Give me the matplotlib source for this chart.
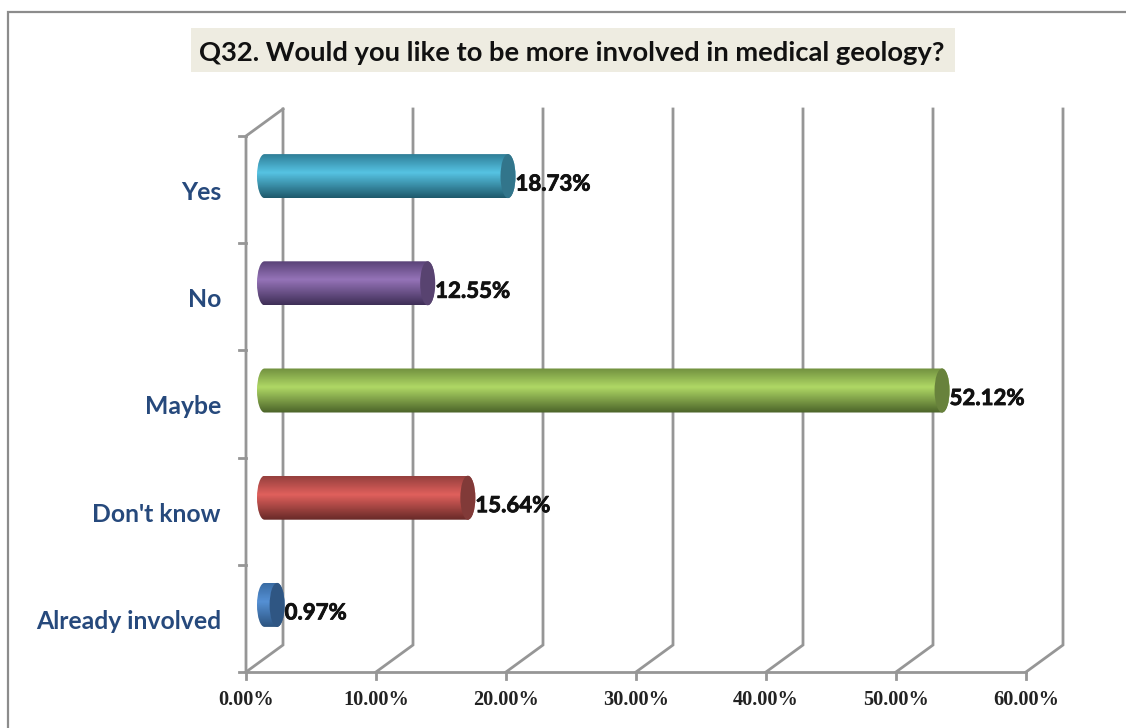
import numpy as np
import matplotlib
matplotlib.use('Agg')
import matplotlib.pyplot as plt
import matplotlib.patheffects as pe
from matplotlib.colors import LinearSegmentedColormap
from matplotlib.lines import Line2D
from matplotlib.patches import Ellipse, PathPatch, Rectangle
from matplotlib.path import Path

# data, top to bottom
categories = ['Yes', 'No', 'Maybe', "Don't know", 'Already involved']
values = [18.73, 12.55, 52.12, 15.64, 0.97]
value_labels = ['18.73%', '12.55%', '52.12%', '15.64%', '0.97%']
xticks = [0, 10, 20, 30, 40, 50, 60]
xtick_labels = ['0.00%', '10.00%', '20.00%', '30.00%', '40.00%', '50.00%', '60.00%']

# top, middle, bottom of the tube and the end cap
bar_colors = [
    ('#2f7f98', '#56c3e3', '#1f5a6c', '#32758b'),
    ('#5a4378', '#9573b8', '#3f2f57', '#584370'),
    ('#71903f', '#afd865', '#4b6329', '#68823c'),
    ('#96403e', '#e0605c', '#682a28', '#813a38'),
    ('#3a6ca4', '#5590d4', '#2c5480', '#2f5683'),
]
grid_col = '#969696'

W, H = 1126, 728
fig = plt.figure(figsize=(W / 100, H / 100), dpi=100)

# axes box is the front plane of the 3d chart, in pixels
left, right, top, bottom = 246, 1026, 136, 672
ax = fig.add_axes([left / W, 1 - bottom / H, (right - left) / W, (bottom - top) / H])
ax.set_xlim(0, 60)
ax.set_ylim(5, 0)
ax.axis('off')

px_x = 60 / (right - left)
px_y = 5 / (bottom - top)
depth_x = 37 * px_x
depth_y = -27 * px_y

# outer frame, only the top and left edges are inside the picture
fig.add_artist(Line2D([8 / W, 8 / W, 1], [0, 1 - 12 / H, 1 - 12 / H], transform=fig.transFigure,
                      color='#8c8c8c', lw=1.6, solid_joinstyle='miter'))

# walls
for t in xticks:
    ax.plot([t, t + depth_x, t + depth_x], [5, 5 + depth_y, depth_y], color=grid_col, lw=2,
            clip_on=False, solid_joinstyle='miter', zorder=1)
    ax.plot([t, t], [5, 5 + 7 * px_y], color=grid_col, lw=2, clip_on=False, zorder=1)
ax.plot([0, 60], [5, 5], color=grid_col, lw=2, clip_on=False, zorder=1)
ax.plot([0, 0, depth_x], [5, 0, depth_y], color=grid_col, lw=2, clip_on=False, zorder=1)
for i in range(6):
    ax.plot([-7 * px_x, 0], [i, i], color=grid_col, lw=2, clip_on=False, zorder=1)

# bars as gradient tubes
bar_h = 44 * px_y
rx = 7.5 * px_x
k = 0.5523
for i, (val, cols) in enumerate(zip(values, bar_colors)):
    x0 = depth_x / 2
    x1 = x0 + val
    yc = i + 0.5 + depth_y / 2
    y0, y1 = yc - bar_h / 2, yc + bar_h / 2
    ry = bar_h / 2
    verts = [(x0, y0), (x1, y0), (x1 + k * rx, y0), (x1 + rx, yc - k * ry), (x1 + rx, yc),
             (x1 + rx, yc + k * ry), (x1 + k * rx, y1), (x1, y1), (x0, y1),
             (x0 - k * rx, y1), (x0 - rx, yc + k * ry), (x0 - rx, yc),
             (x0 - rx, yc - k * ry), (x0 - k * rx, y0), (x0, y0)]
    codes = [Path.MOVETO, Path.LINETO, Path.CURVE4, Path.CURVE4, Path.CURVE4,
             Path.CURVE4, Path.CURVE4, Path.CURVE4, Path.LINETO,
             Path.CURVE4, Path.CURVE4, Path.CURVE4, Path.CURVE4, Path.CURVE4, Path.CURVE4]
    cmap = LinearSegmentedColormap.from_list('tube', [(0, cols[0]), (0.42, cols[1]), (1, cols[2])])
    grad = np.linspace(0, 1, 64).reshape(-1, 1)
    im = ax.imshow(grad, cmap=cmap, aspect='auto', extent=(x0 - rx, x1 + rx, y1, y0),
                   origin='upper', zorder=3)
    outline = PathPatch(Path(verts, codes), transform=ax.transData, facecolor='none',
                        edgecolor='none', zorder=3)
    ax.add_patch(outline)
    im.set_clip_path(outline)
    ax.add_patch(Ellipse((x1, yc), 2 * rx, bar_h, facecolor=cols[3], edgecolor='none', zorder=4))
    txt = ax.annotate(value_labels[i], xy=(x1 + rx, yc), xytext=(0, -8), textcoords='offset pixels',
                      ha='left', va='center', fontsize=16, fontweight='bold', family='Lato',
                      color='#111111', zorder=5, annotation_clip=False)
    txt.set_path_effects([pe.withStroke(linewidth=0.6, foreground='#111111')])
    ax.annotate(categories[i], xy=(0, i + 0.5), xytext=(-25, -3), textcoords='offset pixels',
                ha='right', va='center', fontsize=17.8, fontweight='bold', family='Lato',
                color='#26497c', annotation_clip=False)

ax.set_xlim(0, 60)
ax.set_ylim(5, 0)

# value axis labels
for t, lab in zip(xticks, xtick_labels):
    ax.annotate(lab, xy=(t, 5), xytext=(0, -28), textcoords='offset pixels', ha='center',
                va='center', fontsize=14.6, fontweight='bold', family='Liberation Serif',
                color='#222222', annotation_clip=False)

# title with its beige box
fig.add_artist(Rectangle((191 / W, 1 - 72 / H), 764 / W, 44 / H, transform=fig.transFigure,
                         facecolor='#eeece1', edgecolor='none'))
fig.text(572 / W, 1 - 53 / H, 'Q32. Would you like to be more involved in medical geology?',
         ha='center', va='center', fontsize=19.7, fontweight='bold', family='Lato', color='#111111')

fig.savefig('out.png', dpi=100)
